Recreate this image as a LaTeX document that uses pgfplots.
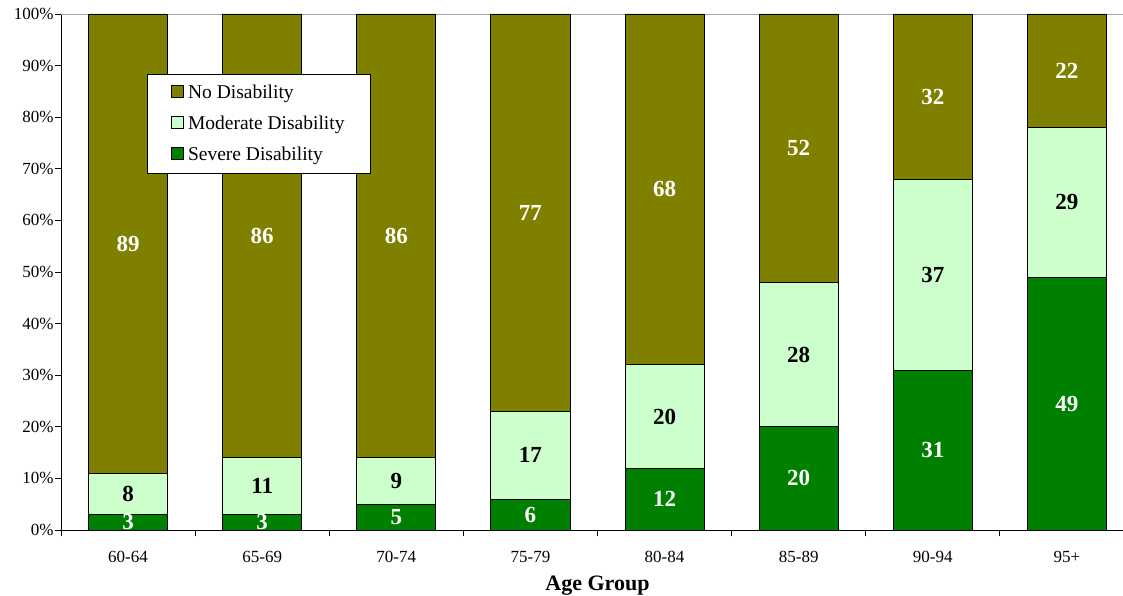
\documentclass[border=0pt]{standalone}
\usepackage{pgfplots}
\pgfplotsset{compat=1.18}
\usepackage{fontspec}
\setmainfont{Liberation Serif}
\definecolor{nodis}{HTML}{808000}
\definecolor{moddis}{HTML}{CCFFCC}
\definecolor{sevdis}{HTML}{008000}

\pgfplotstableread{
x sev mod no
0 3 8 89
1 3 11 86
2 5 9 86
3 6 17 77
4 12 20 68
5 20 28 52
6 31 37 32
7 49 29 22
}\datatable

\pgfplotsset{
  common/.style={
    at={(0,0)}, anchor=south west,
    scale only axis, width=1073pt, height=516pt,
    xmin=-0.5, xmax=7.5, ymin=0, ymax=100,
  },
  lbl/.style={draw=none, mark=none, nodes near coords, point meta=explicit symbolic,
    every node near coord/.append style={anchor=center, font=\fontsize{23}{24}\selectfont\bfseries, text=#1}},
}

\begin{document}
\begin{tikzpicture}[x=1pt,y=1pt]
\useasboundingbox (-61,-65) rectangle (1062,530);
\begin{axis}[
  common,
  ybar stacked, bar width=0.59,
  axis x line*=bottom, axis y line*=left,
  axis line style={black, line width=0.8pt},
  xtick={-0.5,0.5,...,7.5},
  x tick label as interval=true,
  xticklabels={60-64,65-69,70-74,75-79,80-84,85-89,90-94,95+},
  ytick={0,10,...,100},
  yticklabel={\pgfmathprintnumber{\tick}\%},
  tick align=outside, major tick length=6pt,
  tick style={black, line width=0.8pt},
  /pgf/number format/assume math mode=true,
  ticklabel style={font=\fontsize{17}{18}\selectfont},
  xticklabel style={yshift=-12pt},
  yticklabel style={xshift=2pt},
  xlabel={Age Group},
  xlabel style={font=\fontsize{22}{24}\selectfont\bfseries, at={(axis description cs:0.5,-0.107)}, anchor=center},
  legend style={at={(rel axis cs:0.0802,0.884)}, anchor=north west,
    draw=black, fill=white, font=\fontsize{19.5}{22}\selectfont,
    inner xsep=24pt, inner ysep=9pt, row sep=12pt,
    /tikz/every odd column/.append style={column sep=2pt}},
  legend cell align=left,
  reverse legend,
  legend image code/.code={\draw[#1, draw=black, line width=0.8pt] (0pt,-5pt) rectangle (12pt,7pt);},
]
\addplot[fill=sevdis, draw=black, line width=0.8pt] table[x=x, y=sev] {\datatable};
\addplot[fill=moddis, draw=black, line width=0.8pt] table[x=x, y=mod] {\datatable};
\addplot[fill=nodis, draw=black, line width=0.8pt] table[x=x, y=no] {\datatable};
\legend{Severe Disability, Moderate Disability, No Disability}
\draw[gray!70, line width=0.8pt] (rel axis cs:0,1) -- (rel axis cs:1,1);
\end{axis}
\begin{axis}[common, hide axis]
\addplot[lbl=white] table[meta=l] {
x y l
0 1.5 3
1 1.5 3
2 2.5 5
3 3 6
4 6 12
5 10 20
6 15.5 31
7 24.5 49
};
\addplot[lbl=black] table[meta=l] {
x y l
0 7 8
1 8.5 11
2 9.5 9
3 14.5 17
4 22 20
5 34 28
6 49.5 37
7 63.5 29
};
\addplot[lbl=white] table[meta=l] {
x y l
0 55.5 89
1 57 86
2 57 86
3 61.5 77
4 66 68
5 74 52
6 84 32
7 89 22
};
\end{axis}
\end{tikzpicture}
\end{document}
